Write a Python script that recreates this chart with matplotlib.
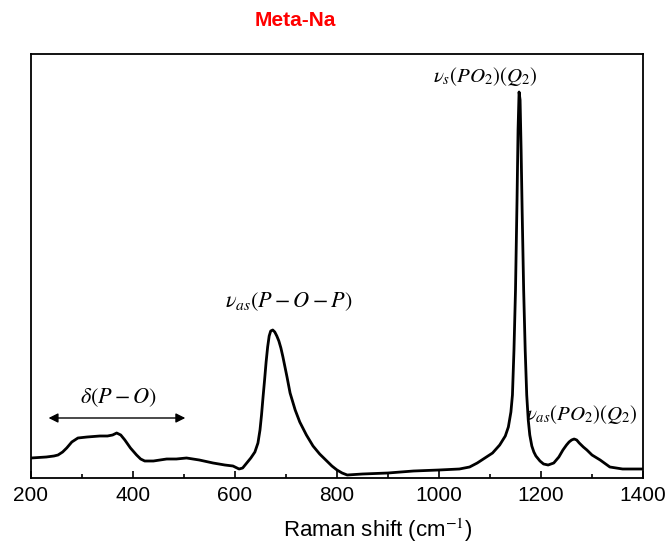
import numpy as np
import matplotlib
matplotlib.use("Agg")
import matplotlib.pyplot as plt
from matplotlib.ticker import MultipleLocator

plt.rcParams['font.family'] = ['Liberation Sans', 'DejaVu Sans']
plt.rcParams['mathtext.fontset'] = 'stix'

# Raman spectrum (arbitrary intensity units)
shift = [200, 230, 245, 253, 262, 270, 280, 292, 310, 335, 350, 360, 368, 376,
         384, 395, 407, 415, 423, 440, 466, 485, 505, 530, 557, 580, 596, 608,
         615, 623, 631, 639, 645, 649, 652, 655, 658, 661, 664, 667, 670, 674,
         678, 682, 686, 690, 694, 698, 702, 708, 718, 727, 740, 753, 766, 780,
         790, 800, 810, 820, 850, 900, 950, 1000, 1040, 1060, 1075, 1090, 1105,
         1119, 1130, 1136, 1141, 1144, 1147, 1150, 1153, 1155, 1157, 1159,
         1161, 1163, 1166, 1169, 1172, 1175, 1178, 1182, 1186, 1190, 1198,
         1205, 1214, 1225, 1235, 1243, 1250, 1255, 1260, 1265, 1270, 1275,
         1283, 1290, 1300, 1316, 1335, 1360, 1400]
ypix = [458, 457, 456, 455, 452, 448, 442, 438, 437, 436, 436, 435, 433, 435,
        440, 448, 455, 459, 461, 461, 459, 459, 458, 460, 463, 465, 466, 469,
        468, 463, 458, 452, 443, 430, 415, 397, 380, 362, 347, 336, 331, 330,
        332, 336, 341, 348, 357, 367, 377, 393, 410, 422, 435, 446, 454, 461,
        466, 470, 473, 475, 474, 473, 471, 470, 469, 467, 463, 458, 453,
        445, 436, 427, 412, 395, 350, 290, 200, 130, 92, 100,
        150, 210, 290, 350, 395, 420, 435, 446, 452, 456, 461,
        464, 465, 463, 457, 450, 445, 442, 440, 439, 440, 443,
        447, 450, 455, 460, 467, 469, 469]
intensity = [478 - v for v in ypix]

fig = plt.figure(figsize=(6.68, 5.49), dpi=100)
ax = fig.add_axes([31/668, 1-478/549, 612/668, 424/549])

ax.plot(shift, intensity, color='black', lw=2, solid_joinstyle='round')
ax.set_xlim(200, 1400)
ax.set_ylim(0, 424)
ax.xaxis.set_major_locator(MultipleLocator(200))
ax.xaxis.set_minor_locator(MultipleLocator(100))
ax.tick_params(axis='x', which='major', direction='in', length=5, width=1.2,
               labelsize=15, pad=6)
ax.tick_params(axis='x', which='minor', direction='in', length=3, width=1.2)
ax.set_yticks([])
for s in ax.spines.values():
    s.set_linewidth(1.3)

# peak labels
ax.text(289/668, 1-302/549, r'$\nu_{as}(P-O-P)$', transform=fig.transFigure,
        ha='center', va='center', fontsize=16)
ax.text(485/668, 1-76/549, r'$\nu_s(PO_2)(Q_2)$', transform=fig.transFigure,
        ha='center', va='center', fontsize=15)
ax.text(582/668, 1-415/549, r'$\nu_{as}(PO_2)(Q_2)$', transform=fig.transFigure,
        ha='center', va='center', fontsize=15)
ax.text(119/668, 1-398/549, r'$\delta(P-O)$', transform=fig.transFigure,
        ha='center', va='center', fontsize=16)
ax.annotate('', xy=(229, 478-418), xytext=(508, 478-418),
            arrowprops=dict(arrowstyle='<|-|>', color='black', lw=1,
                            mutation_scale=14))

fig.text(295/668, 1-20/549, 'Meta-Na', color='red', fontsize=15,
         fontweight='bold', ha='center', va='center')
fig.text(378/668, 1-530/549, r'Raman shift (cm$^{-1}$)', fontsize=16,
         ha='center', va='center')

fig.savefig('out.png', dpi=100)
